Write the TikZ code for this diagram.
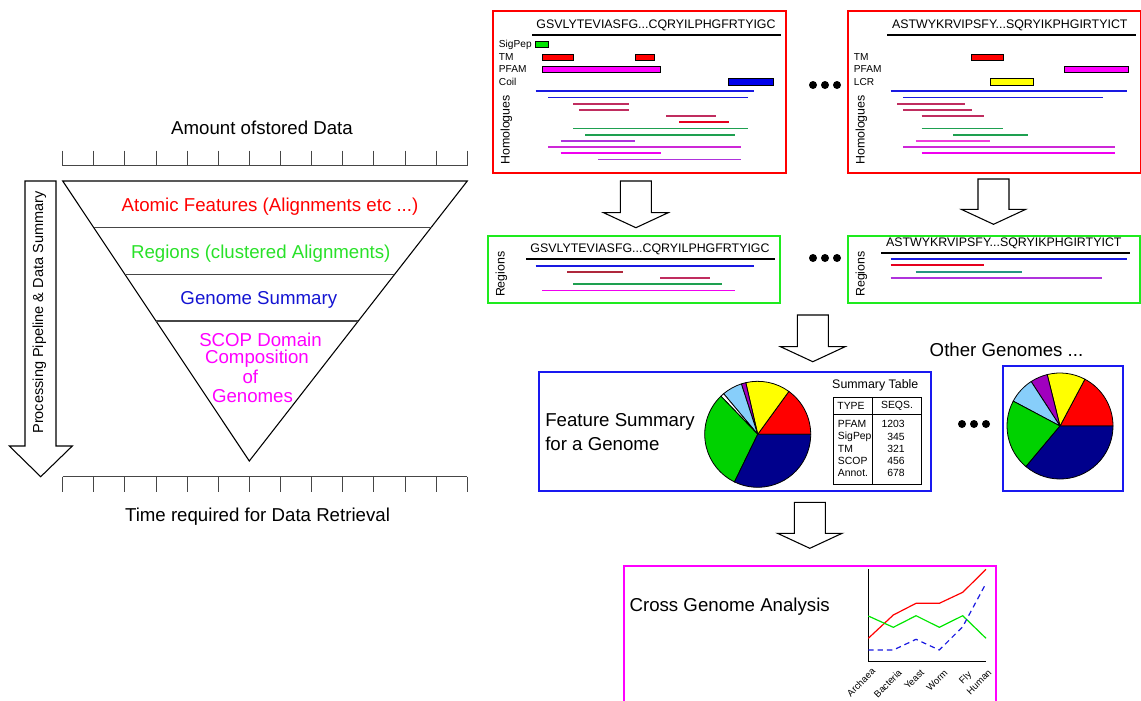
\documentclass[tikz,border=0pt]{standalone}
\usepackage{fontspec}
\setmainfont{Liberation Sans}
\definecolor{pRed}{RGB}{255,0,0}
\definecolor{pGreen}{RGB}{30,235,30}
\definecolor{pBlue}{RGB}{25,25,240}
\definecolor{pMag}{RGB}{255,0,255}
\definecolor{tGreen}{RGB}{40,225,40}
\definecolor{tBlue}{RGB}{20,20,210}
\definecolor{hBlue}{RGB}{25,25,225}
\definecolor{hCrim}{RGB}{192,45,95}
\definecolor{hDkRed}{RGB}{175,40,60}
\definecolor{hRed}{RGB}{230,0,30}
\definecolor{hGreen}{RGB}{30,160,80}
\definecolor{hTeal}{RGB}{40,150,130}
\definecolor{hPurp}{RGB}{175,50,220}
\definecolor{hMagP}{RGB}{205,40,215}
\definecolor{hMag}{RGB}{240,0,240}
\definecolor{hPink}{RGB}{240,60,220}
\definecolor{fGreen}{RGB}{0,230,0}
\definecolor{fBlue}{RGB}{0,0,235}
\definecolor{fYel}{RGB}{255,255,0}
\definecolor{pieRed}{RGB}{255,0,0}
\definecolor{pieYel}{RGB}{255,255,0}
\definecolor{piePur}{RGB}{160,0,190}
\definecolor{pieLB}{RGB}{135,206,250}
\definecolor{pieGreen}{RGB}{0,210,0}
\definecolor{pieNavy}{RGB}{0,0,140}
\definecolor{rulegray}{RGB}{70,70,70}
\newcommand\myslice[4]{\filldraw[fill=#4, draw=black, line width=0.6pt] (#1) -- +({-#2}:53) arc[start angle={-#2}, end angle={-#3}, radius=53] -- cycle;}
\begin{document}
\begin{tikzpicture}[x=0.75pt,y=-0.75pt,
  panel/.style={draw, line width=1.5pt, anchor=north west, inner sep=0pt},
  big/.style={font=\fontsize{14}{16}\selectfont, inner sep=0pt},
  seq/.style={font=\fontsize{9.3}{11}\selectfont, inner sep=0pt},
  lab/.style={font=\fontsize{7.6}{9}\selectfont, inner sep=0pt, anchor=west},
  vlab/.style={font=\fontsize{9.3}{11}\selectfont, inner sep=0pt, rotate=90},
  tab/.style={font=\fontsize{7.8}{9}\selectfont, inner sep=0pt},
  chl/.style={font=\fontsize{7.1}{9}\selectfont, inner sep=0pt, rotate=45, anchor=north east},
  feat/.style={draw=black, line width=0.5pt},
  hom/.style={line width=1.2pt},
  uline/.style={line width=1.6pt},
  pics/barrow/.style={code={\draw[line width=0.8pt, fill=white] (-15.5,0) -- (15.5,0) -- (15.5,#1) -- (32.3,#1) -- (0,#1+15) -- (-32.3,#1) -- (-15.5,#1) -- cycle;}}
]
\useasboundingbox (0,0) rectangle (1141,700);

% ---------------- left: pyramid ----------------
\node[big] (amount) at (262,128) {Amount ofstored Data};
\draw[rulegray, line width=0.8pt] (62.7,165.7) -- (467.3,165.7);
\foreach \i in {0,...,13} \draw[rulegray, line width=0.8pt] (62.7+\i*31.125,150.7) -- (62.7+\i*31.125,165.7);
\draw[rulegray, line width=0.8pt] (62.7,476.7) -- (467.3,476.7);
\foreach \i in {0,...,13} \draw[rulegray, line width=0.8pt] (62.7+\i*31.125,476.7) -- (62.7+\i*31.125,492);
\node[big] (timereq) at (257.5,517) {Time required for Data Retrieval};

\draw[line width=0.8pt] (62.7,181) -- (467.3,181) -- (249.3,461) -- cycle;
\draw[rulegray, line width=0.8pt] (94.3,227.7) -- (431.7,227.7);
\draw[rulegray, line width=0.8pt] (125.3,274.3) -- (394.3,274.3);
\draw[rulegray, line width=0.8pt] (156.3,321) -- (357.7,321);
\node[big, text=pRed] (atomic) at (270,206.7) {Atomic Features (Alignments etc ...)};
\node[big, text=tGreen] (regs) at (260.8,253.3) {Regions (clustered Alignments)};
\node[big, text=tBlue] (gsum) at (258.8,300) {Genome Summary};
\node[big, text=pMag] (scop1) at (260.5,340) {SCOP Domain};
\node[big, text=pMag] (scop2) at (257,358.7) {Composition};
\node[big, text=pMag] (scop3) at (250.3,377.3) {of};
\node[big, text=pMag] (scop4) at (252.5,396) {Genomes};

\draw[line width=0.8pt, fill=white] (25,181) -- (56,181) -- (56,446) -- (72.3,446) -- (40.7,476.7) -- (9.3,446) -- (25,446) -- cycle;
\node[font=\fontsize{10.9}{12}\selectfont, inner sep=0pt, rotate=90] (pipe) at (39.3,312.5) {Processing Pipeline \& Data Summary};

% ---------------- panel 1 ----------------
\node[panel, draw=pRed, minimum width=293*0.75pt, minimum height=162*0.75pt] (p1) at (492,10) {};
\node[seq] (h1) at (656,25.7) {GSVLYTEVIASFG...CQRYILPHGFRTYIGC};
\draw[uline] (532.3,35) -- (781.3,35);
\node[lab] (l1a) at (498.7,45) {SigPep};
\node[lab] (l1b) at (498.7,57.3) {TM};
\node[lab] (l1c) at (498.7,69.3) {PFAM};
\node[lab] (l1d) at (498.7,81.7) {Coil};
\draw[feat, fill=fGreen] (535.3,41.7) rectangle (548.7,47.7);
\draw[feat, fill=pRed] (542,54) rectangle (573.3,60.3);
\draw[feat, fill=pRed] (635.3,54) rectangle (654,60.3);
\draw[feat, fill=pMag] (542,66) rectangle (660.7,72.7);
\draw[feat, fill=fBlue] (728.7,78) rectangle (773,85.3);
\node[vlab] (v1) at (506.3,130) {Homologues};
\draw[hom, hBlue] (535.7,91) -- (753.7,91);
\draw[hom, hBlue] (548,97.3) -- (747.7,97.3);
\draw[hom, hCrim] (573.3,103.7) -- (629,103.7);
\draw[hom, hCrim] (579,110) -- (629,110);
\draw[hom, hCrim] (666.3,116) -- (716.3,116);
\draw[hom, hRed] (679,122) -- (728.7,122);
\draw[hom, hGreen] (573.3,128.3) -- (747.7,128.3);
\draw[hom, hGreen] (585.3,134.7) -- (735,134.7);
\draw[hom, hPurp] (560.7,140.7) -- (635.3,140.7);
\draw[hom, hMagP] (548,147) -- (741.3,147);
\draw[hom, hMag] (560.7,153) -- (660.7,153);
\draw[hom, hPurp] (598,159.3) -- (741.3,159.3);

% ---------------- panel 2 ----------------
\node[panel, draw=pRed, minimum width=293*0.75pt, minimum height=162*0.75pt] (p2) at (847,10) {};
\node[seq] (h2) at (1009.8,25.7) {ASTWYKRVIPSFY...SQRYIKPHGIRTYICT};
\draw[uline] (887.3,35) -- (1136.3,35);
\node[lab] (l2a) at (853.7,57.3) {TM};
\node[lab] (l2b) at (853.7,69.3) {PFAM};
\node[lab] (l2c) at (853.7,81.7) {LCR};
\draw[feat, fill=pRed] (971.3,54) rectangle (1003,60.3);
\draw[feat, fill=pMag] (1064.7,66) rectangle (1128,72.7);
\draw[feat, fill=fYel] (990,78.3) rectangle (1033.7,85);
\node[vlab] (v2) at (861.3,130) {Homologues};
\draw[hom, hBlue] (890.7,91) -- (1127,91);
\draw[hom, hBlue] (903,97.3) -- (1102.7,97.3);
\draw[hom, hCrim] (897,103.7) -- (965.3,103.7);
\draw[hom, hCrim] (903,110) -- (971.7,110);
\draw[hom, hCrim] (921.7,116) -- (984,116);
\draw[hom, hGreen] (921.7,128.3) -- (1003,128.3);
\draw[hom, hGreen] (953,134.7) -- (1027.7,134.7);
\draw[hom, hPink] (915.7,140.7) -- (990.3,140.7);
\draw[hom, hMagP] (903,147) -- (1115,147);
\draw[hom, hMag] (921.7,153) -- (1115,153);

% dots
\foreach \c in {813,825,837} \fill (\c,85) circle[radius=4];

% ---------------- panel 3 ----------------
\node[panel, draw=pGreen, minimum width=292*0.75pt, minimum height=67*0.75pt] (p3) at (487,235) {};
\node[seq] (h3) at (650,249.3) {GSVLYTEVIASFG...CQRYILPHGFRTYIGC};
\draw[uline] (526.3,259.3) -- (775.3,259.3);
\node[vlab] (v3) at (501.3,274.2) {Regions};
\draw[hom, hBlue] (535.7,265.7) -- (753.7,265.7);
\draw[hom, hDkRed] (567,272) -- (623,272);
\draw[hom, hCrim] (660.3,278) -- (710,278);
\draw[hom, hGreen] (573,284) -- (722.3,284);
\draw[hom, hMag] (542,290.3) -- (734.7,290.3);

% ---------------- panel 4 ----------------
\node[panel, draw=pGreen, minimum width=292*0.75pt, minimum height=67*0.75pt] (p4) at (847,235) {};
\node[seq] (h4) at (1003.8,243.3) {ASTWYKRVIPSFY...SQRYIKPHGIRTYICT};
\draw[uline] (881.3,252.7) -- (1130.3,252.7);
\node[vlab] (v4) at (861.3,274) {Regions};
\draw[hom, hBlue] (890.7,259) -- (1127,259);
\draw[hom, hRed] (890.7,265) -- (984,265);
\draw[hom, hTeal] (915.7,271.7) -- (1021.7,271.7);
\draw[hom, hPurp] (890.7,277.7) -- (1102.3,277.7);

\foreach \c in {813,825,837} \fill (\c,258) circle[radius=4];

% ---------------- block arrows ----------------
\coordinate (a1) at (635.9,181);
\coordinate (a2) at (993.5,179);
\coordinate (a3) at (812.8,315);
\coordinate (a4) at (809.8,502.3);
\pic at (a1) {barrow=31.7};
\pic at (a2) {barrow=30.3};
\pic at (a3) {barrow=31.7};
\pic at (a4) {barrow=31};

% ---------------- panel 5 ----------------
\node[panel, draw=pBlue, minimum width=392*0.75pt, minimum height=119*0.75pt] (p5) at (538,371) {};
\node[big, anchor=west] (fs1) at (545,421.7) {Feature Summary};
\node[big, anchor=west] (fs2) at (545,444.3) {for a Genome};
\coordinate (pc1) at (757.7,434.3);
\myslice{pc1}{0}{54}{pieRed}
\myslice{pc1}{54}{103}{pieYel}
\myslice{pc1}{103}{108}{piePur}
\myslice{pc1}{108}{130}{pieLB}
\myslice{pc1}{130}{134}{white}
\myslice{pc1}{134}{244}{pieGreen}
\myslice{pc1}{244}{360}{pieNavy}
\node[seq] (stt) at (875.3,385.7) {Summary Table};
\draw[line width=0.75pt] (833.3,397.3) rectangle (921,484.3);
\draw[line width=0.75pt] (872.3,397.3) -- (872.3,484.3);
\draw[line width=0.75pt] (833.3,414.3) -- (921,414.3);
\node[tab] (ty) at (851,405.7) {TYPE};
\node[tab] (sq) at (897,405.7) {SEQS.};
\node[tab, anchor=west] (r1) at (837.7,424) {PFAM};
\node[tab, anchor=west] (r2) at (837.7,436.7) {SigPep};
\node[tab, anchor=west] (r3) at (837.7,448.7) {TM};
\node[tab, anchor=west] (r4) at (837.7,461) {SCOP};
\node[tab, anchor=west] (r5) at (837.7,473.3) {Annot.};
\node[tab, anchor=east] (n1) at (905,424) {1203};
\node[tab, anchor=east] (n2) at (905,436.7) {345};
\node[tab, anchor=east] (n3) at (905,448.7) {321};
\node[tab, anchor=east] (n4) at (905,461) {456};
\node[tab, anchor=east] (n5) at (905,473.3) {678};

\foreach \c in {962,974,986} \fill (\c,424) circle[radius=4];

% ---------------- panel 6 ----------------
\node[big] (other) at (1006.5,350) {Other Genomes ...};
\node[panel, draw=pBlue, minimum width=120*0.75pt, minimum height=125*0.75pt] (p6) at (1002,365) {};
\coordinate (pc2) at (1060,426);
\myslice{pc2}{0}{62}{pieRed}
\myslice{pc2}{62}{104}{pieYel}
\myslice{pc2}{104}{123}{piePur}
\myslice{pc2}{123}{152}{pieLB}
\myslice{pc2}{152}{230}{pieGreen}
\myslice{pc2}{230}{360}{pieNavy}

% ---------------- panel 7 ----------------
\node[panel, draw=pMag, minimum width=372*0.75pt, minimum height=145*0.75pt] (p7) at (623,565) {};
\node[big, anchor=west] (cga) at (629.3,606.7) {Cross Genome Analysis};
\draw[line width=0.8pt] (868.3,569.3) -- (868.3,661.7) -- (986,661.7);
\draw[line width=0.9pt, red] (868.3,638.3) -- (893.3,615) -- (916,603.3) -- (939.3,603.3) -- (962.7,592.3) -- (986,569.3);
\draw[line width=0.9pt, fGreen] (868.3,616) -- (893.3,627.3) -- (916,615.7) -- (939.3,627.3) -- (962.7,615.7) -- (986,638.3);
\draw[line width=0.9pt, hBlue, dash pattern=on 4pt off 3pt] (868.3,650) -- (893.3,650) -- (916,639.3) -- (939.3,650) -- (962.7,626.7) -- (986,583.3);
\node[chl] (c1) at (871,667) {Archaea};
\node[chl] (c2) at (897.5,668.5) {Bacteria};
\node[chl] (c3) at (920,668.5) {Yeast};
\node[chl] (c4) at (943.5,668.5) {Worm};
\node[chl] (c5) at (967,670) {Fly};
\node[chl] (c6) at (987.5,668.5) {Human};
\end{tikzpicture}
\end{document}
